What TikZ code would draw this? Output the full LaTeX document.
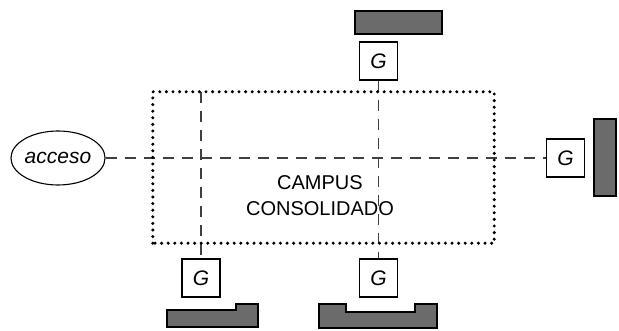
\documentclass[tikz,border=0pt]{standalone}
\usepackage{fontspec}
\setmainfont{Liberation Sans}
\usetikzlibrary{shapes.geometric}

\begin{document}
\begin{tikzpicture}[x=1pt,y=-1pt,
  gbox/.style={draw,line width=1.1pt,minimum size=38pt,inner sep=0pt,fill=white,font=\fontsize{21}{21}\selectfont\itshape},
  bar/.style={draw=black,line width=1.1pt,fill=black!58},
  link/.style={draw=black!75,line width=1.5pt,dash pattern=on 11pt off 8pt}]
\useasboundingbox (0,0) rectangle (619,331);
% nodes
\node[ellipse,draw,line width=1.1pt,minimum width=90pt,minimum height=54pt,inner sep=0pt,font=\fontsize{21}{21}\selectfont\itshape] (acceso) at (58,158) {acceso};
\node[gbox] (gN) at (378.5,61) {G};
\node[gbox] (gE) at (565.5,158) {G};
\node[gbox] (gSW) at (201,278) {G};
\node[gbox] (gSE) at (378.5,278) {G};
\node[minimum width=341pt,minimum height=151pt] (campus) at (323.5,167.5) {};
\node[font=\fontsize{20}{26}\selectfont,align=center] (campusLbl) at (320,196) {CAMPUS\\CONSOLIDADO};
% links
\draw[link] (acceso) -- (gE);
\draw[link] (gN) -- (gSE);
\draw[link] (gSW |- campus.north) -- (gSW);
\draw[line width=3.4pt,line cap=round,dash pattern=on 0pt off 6.6pt] (campus.south west) rectangle (campus.north east);
% bars
\filldraw[bar] (355,11) rectangle (442,34);
\filldraw[bar] (594,119) rectangle (616,196);
\filldraw[bar] (167,310) -- (236,310) -- (236,304) -- (258,304) -- (258,327) -- (167,327) -- cycle;
\filldraw[bar] (319,304) -- (346,304) -- (346,312) -- (415,312) -- (415,304) -- (437,304) -- (437,328) -- (319,328) -- cycle;
\end{tikzpicture}
\end{document}
